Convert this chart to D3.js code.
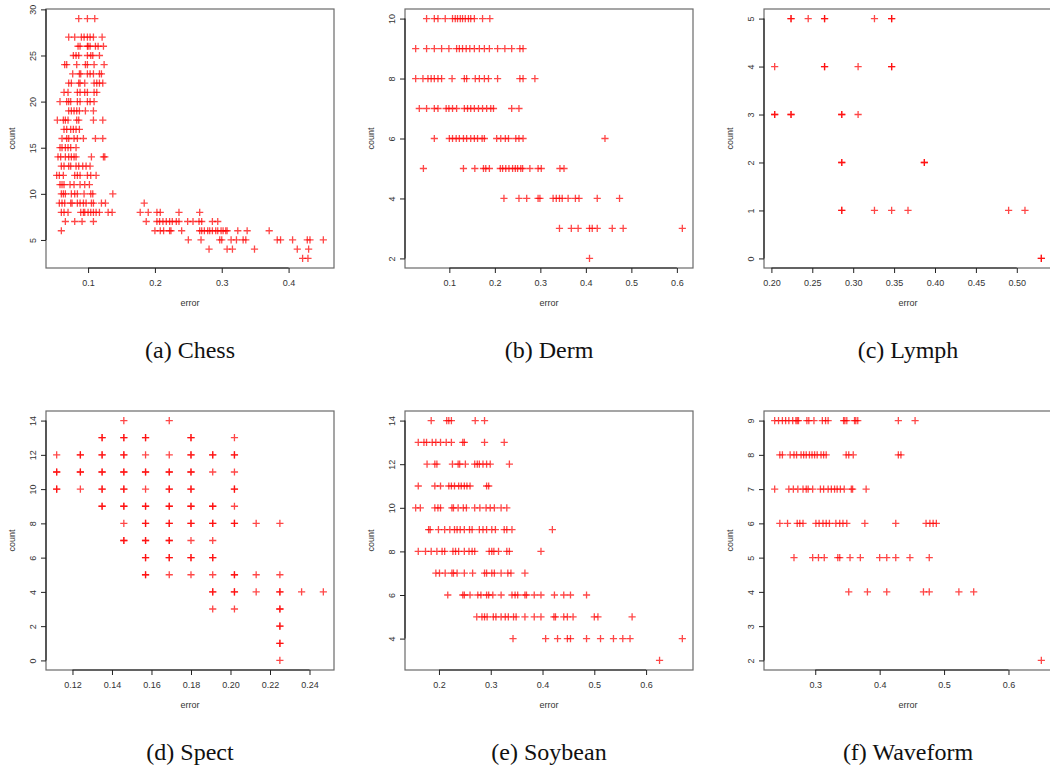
<!DOCTYPE html>
<html>
<head>
<meta charset="utf-8">
<script src="https://cdn.jsdelivr.net/npm/d3@7"></script>
<style>
  body { margin: 0; background: #fff; }
  .tick text, .ttl { font-family: "Liberation Sans", Arial, sans-serif; fill: #333; }
  .cap { font-family: "Liberation Serif", "Times New Roman", serif; fill: #111; }
</style>
</head>
<body>
<div class="canvaChart"></div>
<script>
// (a) Chess
const chessCounts = [29, 27, 26, 25, 24, 23, 22, 21, 20, 19, 18, 17, 16, 15, 14, 13, 12, 11, 10, 9, 8, 7, 6, 5, 4, 3];
const chessErrors = [
  [0.086, 0.099, 0.110],
  [0.071, 0.080, 0.090, 0.094, 0.099, 0.103, 0.108, 0.121],
  [0.085, 0.088, 0.099, 0.100, 0.103, 0.111, 0.115, 0.123],
  [0.078, 0.082, 0.086, 0.099, 0.104, 0.107, 0.117],
  [0.065, 0.068, 0.083, 0.096, 0.099, 0.109, 0.124],
  [0.077, 0.087, 0.089, 0.099, 0.103, 0.108, 0.117, 0.120],
  [0.071, 0.075, 0.086, 0.088, 0.095, 0.109, 0.113, 0.117, 0.122],
  [0.064, 0.070, 0.084, 0.088, 0.095, 0.099, 0.109, 0.113],
  [0.058, 0.068, 0.071, 0.074, 0.084, 0.088, 0.099, 0.103, 0.109],
  [0.071, 0.075, 0.079, 0.083, 0.087, 0.096, 0.108],
  [0.054, 0.063, 0.066, 0.070, 0.083, 0.086, 0.108, 0.122],
  [0.064, 0.068, 0.074, 0.078, 0.082, 0.087],
  [0.061, 0.068, 0.071, 0.079, 0.084, 0.093, 0.111, 0.122],
  [0.058, 0.061, 0.066, 0.070, 0.074, 0.082],
  [0.055, 0.059, 0.066, 0.071, 0.075, 0.079, 0.082, 0.105, 0.123, 0.125],
  [0.060, 0.064, 0.071, 0.074, 0.082, 0.086, 0.092, 0.097, 0.103],
  [0.053, 0.057, 0.063, 0.080, 0.084, 0.088, 0.099, 0.104, 0.112],
  [0.058, 0.061, 0.064, 0.073, 0.079, 0.088, 0.095, 0.102],
  [0.060, 0.063, 0.066, 0.075, 0.080, 0.084, 0.094, 0.104, 0.107, 0.137],
  [0.057, 0.061, 0.065, 0.074, 0.076, 0.084, 0.088, 0.093, 0.097, 0.105, 0.108, 0.120, 0.126, 0.184],
  [0.060, 0.064, 0.070, 0.089, 0.093, 0.095, 0.100, 0.104, 0.108, 0.112, 0.117, 0.130, 0.136, 0.178, 0.190, 0.203, 0.208, 0.236, 0.267],
  [0.066, 0.080, 0.091, 0.108, 0.187, 0.203, 0.207, 0.212, 0.217, 0.222, 0.226, 0.232, 0.236, 0.249, 0.257, 0.266, 0.270, 0.286, 0.294],
  [0.060, 0.200, 0.208, 0.213, 0.222, 0.224, 0.240, 0.267, 0.270, 0.274, 0.279, 0.282, 0.286, 0.291, 0.294, 0.299, 0.302, 0.306, 0.308, 0.324, 0.338, 0.371],
  [0.250, 0.269, 0.297, 0.300, 0.314, 0.322, 0.332, 0.336, 0.383, 0.388, 0.406, 0.428, 0.432, 0.452],
  [0.281, 0.308, 0.316, 0.349, 0.413, 0.430],
  [0.421, 0.429]
];

// (b) Derm
const dermCounts = [10, 9, 8, 7, 6, 5, 4, 3, 2];
const dermErrors = [
  [0.050, 0.067, 0.075, 0.091, 0.107, 0.113, 0.118, 0.124, 0.129, 0.135, 0.142, 0.147, 0.155, 0.173, 0.189],
  [0.026, 0.050, 0.067, 0.083, 0.099, 0.116, 0.122, 0.129, 0.137, 0.145, 0.155, 0.166, 0.177, 0.188, 0.206, 0.222, 0.237, 0.255, 0.262],
  [0.026, 0.042, 0.053, 0.060, 0.067, 0.075, 0.083, 0.106, 0.133, 0.138, 0.157, 0.166, 0.177, 0.186, 0.206, 0.255, 0.262, 0.288],
  [0.034, 0.050, 0.067, 0.075, 0.093, 0.099, 0.107, 0.116, 0.133, 0.140, 0.147, 0.155, 0.164, 0.173, 0.182, 0.191, 0.197, 0.237, 0.253],
  [0.067, 0.100, 0.107, 0.115, 0.122, 0.131, 0.138, 0.147, 0.155, 0.162, 0.172, 0.177, 0.204, 0.213, 0.223, 0.230, 0.246, 0.253, 0.262, 0.442],
  [0.043, 0.131, 0.156, 0.175, 0.180, 0.188, 0.212, 0.217, 0.224, 0.231, 0.239, 0.245, 0.250, 0.257, 0.261, 0.277, 0.295, 0.302, 0.343, 0.352],
  [0.220, 0.253, 0.270, 0.295, 0.299, 0.328, 0.335, 0.342, 0.348, 0.361, 0.377, 0.385, 0.425, 0.474],
  [0.342, 0.368, 0.383, 0.408, 0.414, 0.425, 0.458, 0.482, 0.612],
  [0.408]
];

// (c) Lymph
const lymphCounts = [5, 4, 3, 2, 1, 0];
const lymphErrors = [
  [0.224, 0.224, 0.245, 0.265, 0.265, 0.326, 0.347, 0.347],
  [0.204, 0.265, 0.265, 0.306, 0.347, 0.347],
  [0.204, 0.204, 0.224, 0.224, 0.286, 0.286, 0.306],
  [0.286, 0.286, 0.387, 0.387],
  [0.286, 0.286, 0.326, 0.347, 0.367, 0.490, 0.510],
  [0.530, 0.530]
];

// (d) Spect
const spectCounts = [14, 13, 12, 11, 10, 9, 8, 7, 6, 5, 4, 3, 2, 1, 0];
const spectErrors = [
  [0.146, 0.169],
  [0.135, 0.135, 0.146, 0.146, 0.157, 0.157, 0.180, 0.180, 0.202],
  [0.112, 0.124, 0.124, 0.135, 0.135, 0.146, 0.146, 0.157, 0.169, 0.180, 0.180, 0.191, 0.191, 0.202, 0.202],
  [0.112, 0.112, 0.124, 0.124, 0.135, 0.135, 0.146, 0.146, 0.157, 0.157, 0.169, 0.169, 0.180, 0.180, 0.191, 0.202],
  [0.112, 0.112, 0.124, 0.135, 0.135, 0.146, 0.146, 0.157, 0.169, 0.169, 0.180, 0.180, 0.202, 0.202],
  [0.135, 0.135, 0.146, 0.146, 0.157, 0.157, 0.169, 0.169, 0.180, 0.180, 0.191, 0.191, 0.202],
  [0.146, 0.157, 0.157, 0.169, 0.169, 0.180, 0.180, 0.191, 0.191, 0.202, 0.202, 0.213, 0.225],
  [0.146, 0.146, 0.157, 0.157, 0.169, 0.169, 0.180, 0.191],
  [0.157, 0.157, 0.169, 0.169, 0.180, 0.180, 0.191, 0.191],
  [0.157, 0.157, 0.169, 0.180, 0.191, 0.202, 0.202, 0.213, 0.225],
  [0.191, 0.191, 0.202, 0.202, 0.213, 0.225, 0.225, 0.236, 0.247],
  [0.191, 0.202, 0.225, 0.225],
  [0.225, 0.225],
  [0.225, 0.225],
  [0.225]
];

// (e) Soybean
const soyCounts = [14, 13, 12, 11, 10, 9, 8, 7, 6, 5, 4, 3];
const soyErrors = [
  [0.185, 0.215, 0.219, 0.224, 0.270, 0.288],
  [0.160, 0.171, 0.176, 0.187, 0.194, 0.203, 0.214, 0.224, 0.246, 0.249, 0.288, 0.326],
  [0.177, 0.192, 0.196, 0.226, 0.237, 0.240, 0.251, 0.269, 0.274, 0.278, 0.285, 0.292, 0.299, 0.336],
  [0.160, 0.192, 0.203, 0.219, 0.224, 0.230, 0.238, 0.243, 0.249, 0.254, 0.260, 0.292, 0.296],
  [0.155, 0.164, 0.192, 0.198, 0.203, 0.225, 0.228, 0.237, 0.247, 0.253, 0.269, 0.279, 0.291, 0.299, 0.307, 0.320, 0.331],
  [0.180, 0.183, 0.199, 0.211, 0.221, 0.230, 0.235, 0.241, 0.249, 0.259, 0.264, 0.278, 0.285, 0.292, 0.302, 0.309, 0.326, 0.331, 0.341, 0.419],
  [0.160, 0.174, 0.185, 0.196, 0.206, 0.211, 0.227, 0.232, 0.238, 0.249, 0.258, 0.264, 0.269, 0.297, 0.302, 0.306, 0.315, 0.331, 0.336, 0.397],
  [0.194, 0.201, 0.212, 0.225, 0.228, 0.235, 0.249, 0.265, 0.288, 0.292, 0.302, 0.307, 0.320, 0.333, 0.339, 0.366],
  [0.217, 0.246, 0.249, 0.260, 0.275, 0.281, 0.292, 0.296, 0.304, 0.320, 0.341, 0.347, 0.352, 0.366, 0.369, 0.384, 0.397, 0.423, 0.441, 0.454, 0.485],
  [0.273, 0.283, 0.288, 0.293, 0.305, 0.310, 0.320, 0.328, 0.334, 0.344, 0.349, 0.366, 0.384, 0.397, 0.422, 0.425, 0.441, 0.448, 0.459, 0.500, 0.507, 0.573],
  [0.343, 0.406, 0.429, 0.448, 0.454, 0.485, 0.512, 0.537, 0.555, 0.569, 0.670],
  [0.626]
];

// (f) Waveform
const waveCounts = [9, 8, 7, 6, 5, 4, 2];
const waveErrors = [
  [0.237, 0.243, 0.249, 0.254, 0.259, 0.265, 0.270, 0.272, 0.274, 0.287, 0.290, 0.298, 0.311, 0.316, 0.320, 0.344, 0.346, 0.349, 0.361, 0.363, 0.366, 0.429, 0.455],
  [0.245, 0.249, 0.261, 0.267, 0.271, 0.278, 0.282, 0.286, 0.291, 0.295, 0.299, 0.303, 0.309, 0.313, 0.317, 0.348, 0.352, 0.359, 0.429, 0.433],
  [0.237, 0.259, 0.266, 0.273, 0.281, 0.286, 0.289, 0.296, 0.308, 0.313, 0.320, 0.325, 0.330, 0.334, 0.339, 0.345, 0.356, 0.358, 0.379],
  [0.245, 0.257, 0.272, 0.276, 0.281, 0.301, 0.306, 0.312, 0.317, 0.322, 0.332, 0.338, 0.343, 0.349, 0.377, 0.425, 0.472, 0.478, 0.483, 0.488],
  [0.267, 0.296, 0.305, 0.314, 0.335, 0.338, 0.354, 0.370, 0.400, 0.411, 0.425, 0.447, 0.477],
  [0.352, 0.381, 0.411, 0.468, 0.477, 0.523, 0.546],
  [0.651]
];

const panelCaptions = ["(a) Chess", "(b) Derm", "(c) Lymph", "(d) Spect", "(e) Soybean", "(f) Waveform"];
const xTickSets = [
  [0.1, 0.2, 0.3, 0.4],
  [0.1, 0.2, 0.3, 0.4, 0.5, 0.6],
  [0.20, 0.25, 0.30, 0.35, 0.40, 0.45, 0.50],
  [0.12, 0.14, 0.16, 0.18, 0.20, 0.22, 0.24],
  [0.2, 0.3, 0.4, 0.5, 0.6],
  [0.3, 0.4, 0.5, 0.6]
];
const yTickSets = [
  [5, 10, 15, 20, 25, 30],
  [2, 4, 6, 8, 10],
  [0, 1, 2, 3, 4, 5],
  [0, 2, 4, 6, 8, 10, 12, 14],
  [4, 6, 8, 10, 12, 14],
  [2, 3, 4, 5, 6, 7, 8, 9]
];
const xTickFormats = [".1f", ".1f", ".2f", ".2f", ".1f", ".1f"];

const datasets = [
  [chessCounts, chessErrors],
  [dermCounts, dermErrors],
  [lymphCounts, lymphErrors],
  [spectCounts, spectErrors],
  [soyCounts, soyErrors],
  [waveCounts, waveErrors]
];

const W = 1050, H = 774;
const pw = 288, ph = 259;

const svg = d3.select(".canvaChart").append("svg")
  .attr("width", W).attr("height", H)
  .style("display", "block");

svg.append("rect").attr("width", W).attr("height", H).attr("fill", "#fff");

// R style range: data extent plus 4% each side
function rPad(ext) {
  const d = (ext[1] - ext[0]) * 0.04;
  return [ext[0] - d, ext[1] + d];
}

const plusPath = "M-3.6,0H3.6M0,-3.6V3.6";

datasets.forEach(([counts, errors], i) => {
  const col = i % 3, row = Math.floor(i / 3);
  const left = 46 + col * 359;
  const top = row === 0 ? 9 : 411;

  const pts = [];
  counts.forEach((c, j) => errors[j].forEach(e => pts.push({ e: e, c: c })));

  const x = d3.scaleLinear().domain(rPad(d3.extent(pts, d => d.e))).range([0, pw]);
  const y = d3.scaleLinear().domain(rPad(d3.extent(pts, d => d.c))).range([ph, 0]);

  const g = svg.append("g").attr("transform", `translate(${left},${top})`);

  g.append("rect")
    .attr("x", 0).attr("y", 0).attr("width", pw).attr("height", ph)
    .attr("fill", "none").attr("stroke", "#6a6a6a").attr("stroke-width", 1.2);

  const xt = xTickSets[i], yt = yTickSets[i];

  const xa = g.append("g").attr("transform", `translate(0,${ph})`)
    .call(d3.axisBottom(x).tickValues(xt).tickSize(5).tickPadding(7)
      .tickFormat(d3.format(xTickFormats[i])));
  xa.select(".domain").remove();
  xa.append("line")
    .attr("x1", x(xt[0])).attr("x2", x(xt[xt.length - 1]))
    .attr("stroke", "#222").attr("stroke-width", 1.2);

  const ya = g.append("g")
    .call(d3.axisLeft(y).tickValues(yt).tickSize(5).tickFormat(d3.format("d")));
  ya.select(".domain").remove();
  ya.append("line")
    .attr("y1", y(yt[0])).attr("y2", y(yt[yt.length - 1]))
    .attr("stroke", "#222").attr("stroke-width", 1.2);

  [xa, ya].forEach(a => {
    a.selectAll(".tick line").attr("stroke", "#222");
    a.selectAll(".tick text").style("font-size", "9px").attr("fill", "#333");
  });
  ya.selectAll(".tick text")
    .attr("transform", "rotate(-90)")
    .attr("x", 0).attr("y", -10).attr("dy", null)
    .attr("text-anchor", "middle");

  g.append("text").attr("class", "ttl")
    .attr("x", pw / 2).attr("y", ph + 37.5)
    .attr("text-anchor", "middle").style("font-size", "9px")
    .text("error");
  g.append("text").attr("class", "ttl")
    .attr("transform", `translate(-31,${ph / 2}) rotate(-90)`)
    .attr("text-anchor", "middle").style("font-size", "9px")
    .text("count");

  g.selectAll("path.pt")
    .data(pts)
    .enter().append("path")
    .attr("class", "pt")
    .attr("d", plusPath)
    .attr("transform", d => `translate(${x(d.e)},${y(d.c)})`)
    .attr("fill", "none")
    .attr("stroke", "#ff0000")
    .attr("stroke-opacity", 0.72)
    .attr("stroke-width", 1.3);

  svg.append("text").attr("class", "cap")
    .attr("x", left + pw / 2)
    .attr("y", row === 0 ? 358 : 760)
    .attr("text-anchor", "middle")
    .style("font-size", "24px")
    .text(panelCaptions[i]);
});
</script>
</body>
</html>
